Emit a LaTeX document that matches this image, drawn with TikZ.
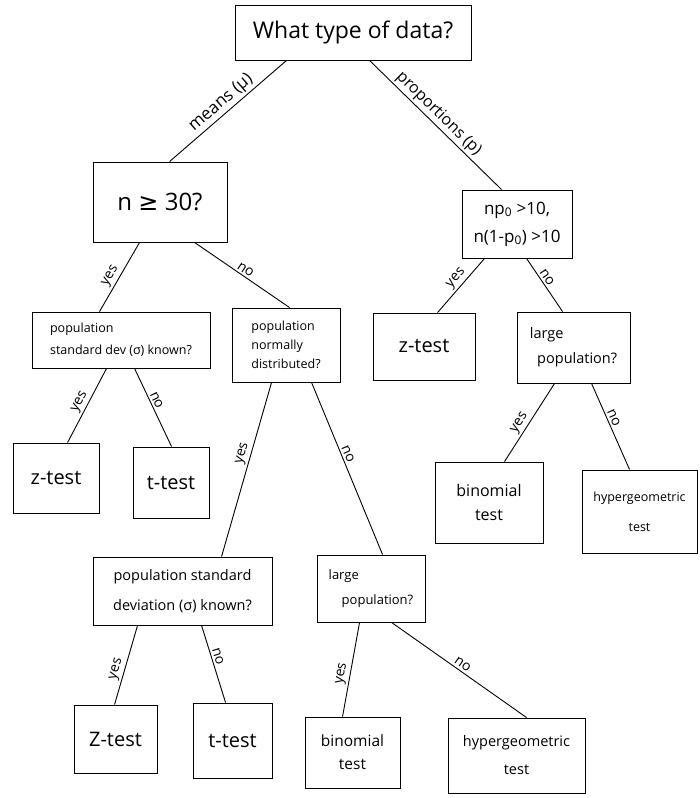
\documentclass[tikz,border=0pt]{standalone}
\usepackage{fontspec}
\setmainfont{Open Sans}
\newfontfamily\symfont{DejaVu Sans}
\usetikzlibrary{calc}
\begin{document}
\begin{tikzpicture}[x=1pt,y=-1pt,
  box/.style={draw, line width=0.9pt, inner sep=2pt, align=center},
  sz/.style 2 args={minimum width=#1pt, minimum height=#2pt},
  conn/.style={line width=0.9pt},
  lab/.style={sloped, above, inner sep=2pt, font=\fontsize{14}{16}\selectfont},
  bigtxt/.style={font=\fontsize{23}{26}\selectfont},
  midtxt/.style={font=\fontsize{17}{28}\selectfont},
  smalltxt/.style={font=\fontsize{12.5}{22}\selectfont},
  testtxt/.style={font=\fontsize{20}{22}\selectfont}
]
\useasboundingbox (0,0) rectangle (700,798);

% boxes
\node[box, sz={236}{55}, bigtxt] (root) at (353,32.5) {What type of data?};
\node[box, sz={134}{80}, font=\fontsize{24}{26}\selectfont] (n30) at (160,202) {n {\symfont ≥} 30?};
\node[box, sz={110}{68}, midtxt] (np) at (517,224) {np\textsubscript{0} >10,\\n(1-p\textsubscript{0}) >10};
\node[box, sz={178}{56}, smalltxt, align=left] (popsd) at (121,340) {population\\standard dev (σ) known?};
\node[box, sz={108}{74}, align=left, font=\fontsize{12.5}{19}\selectfont] (popnorm) at (286,345) {population\\normally\\distributed?};
\node[box, sz={102}{67}, testtxt] (z1) at (424,346.5) {z-test};
\node[box, sz={113}{71}, align=left, font=\fontsize{14.5}{25}\selectfont] (lp1) at (573.5,347.5) {large\\\hspace{0.5em}population?};
\node[box, sz={86}{70}, testtxt] (z2) at (56,478) {z-test};
\node[box, sz={76}{71}, testtxt] (t1) at (171,482.5) {t-test};
\node[box, sz={108}{81}, font=\fontsize{16}{24}\selectfont] (bin1) at (489,502.5) {binomial\\test};
\node[box, sz={115}{83}, font=\fontsize{12.5}{30}\selectfont] (hyp1) at (639.5,511.5) {hypergeometric\\test};
\node[box, sz={179}{68}, font=\fontsize{14.5}{30}\selectfont] (popsd2) at (182.5,591) {population standard\\deviation (σ) known?};
\node[box, sz={108}{67}, align=left, font=\fontsize{13}{25}\selectfont] (lp2) at (371,588.5) {large\\\hspace{1em}population?};
\node[box, sz={83}{68}, testtxt] (z3) at (115.5,739) {Z-test};
\node[box, sz={79}{75}, testtxt] (t2) at (232.5,740.5) {t-test};
\node[box, sz={95}{71}, font=\fontsize{15.5}{23}\selectfont] (bin2) at (352.5,752.5) {binomial\\test};
\node[box, sz={137}{75}, font=\fontsize{14.5}{28}\selectfont] (hyp2) at (516.5,755.5) {hypergeometric\\test};

% connectors
\draw[conn] ([xshift=52pt]root.south west) -- node[lab, pos=0.5, font=\fontsize{17}{19}\selectfont] {means (μ)} ([xshift=77pt]n30.north west);
\draw[conn] ([xshift=135pt]root.south west) -- node[lab, pos=0.47, font=\fontsize{16}{18}\selectfont] {proportions (p)} ([xshift=40pt]np.north west);

\draw[conn] ([xshift=47pt]n30.south west) -- node[lab, pos=0.55] {yes} ([xshift=68pt]popsd.north west);
\draw[conn] ([xshift=102pt]n30.south west) -- node[lab, pos=0.5] {no} ([xshift=58pt]popnorm.north west);

\draw[conn] ([xshift=23pt]np.south west) -- node[lab, pos=0.47] {yes} ([xshift=65pt]z1.north west);
\draw[conn] ([xshift=65pt]np.south west) -- node[lab, pos=0.42] {no} ([xshift=46pt]lp1.north west);

\draw[conn] ([xshift=75pt]popsd.south west) -- node[lab, pos=0.5] {yes} ([xshift=55pt]z2.north west);
\draw[conn] ([xshift=103pt]popsd.south west) -- node[lab, pos=0.44] {no} ([xshift=39pt]t1.north west);

\draw[conn] ([xshift=40pt]popnorm.south west) -- node[lab, pos=0.42] {yes} ([xshift=129pt]popsd2.north west);
\draw[conn] ([xshift=80pt]popnorm.south west) -- node[lab, pos=0.43] {no} ([xshift=66pt]lp2.north west);

\draw[conn] ([xshift=38pt]lp1.south west) -- node[lab, pos=0.56] {yes} ([xshift=70pt]bin1.north west);
\draw[conn] ([xshift=75pt]lp1.south west) -- node[lab, pos=0.43] {no} ([xshift=48pt]hyp1.north west);

\draw[conn] ([xshift=45pt]popsd2.south west) -- node[lab, pos=0.58] {yes} ([xshift=41pt]z3.north west);
\draw[conn] ([xshift=109pt]popsd2.south west) -- node[lab, pos=0.43] {no} ([xshift=33pt]t2.north west);

\draw[conn] ([xshift=43pt]lp2.south west) -- node[lab, pos=0.56] {yes} ([xshift=38pt]bin2.north west);
\draw[conn] ([xshift=75pt]lp2.south west) -- node[lab, pos=0.5] {no} ([xshift=79pt]hyp2.north west);
\end{tikzpicture}
\end{document}
